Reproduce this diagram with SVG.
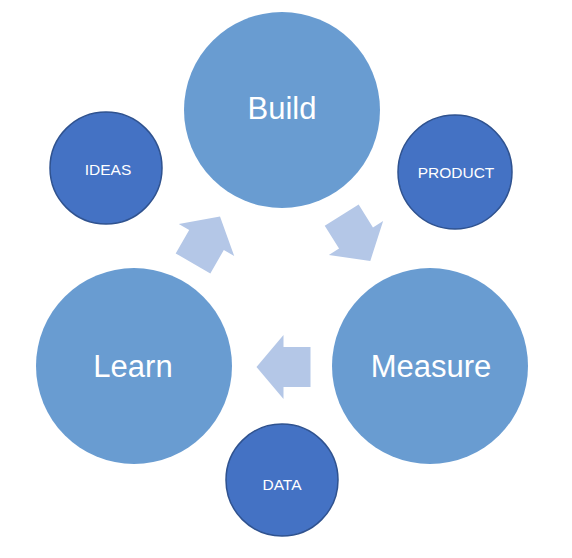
<svg xmlns="http://www.w3.org/2000/svg" width="572" height="558" viewBox="0 0 572 558">
<style>
.big{fill:#699CD1}
.small{fill:#4472C4;stroke:#2F528F;stroke-width:1.5}
.arrow{fill:#B4C7E7}
.lbig{font-family:"Liberation Sans",Arial,sans-serif;font-size:31px;fill:#fff;text-anchor:middle}
.lsmall{font-family:"Liberation Sans",Arial,sans-serif;font-size:15.5px;fill:#fff;text-anchor:middle}
</style>
<defs>
<polygon id="arr" points="27,0 0,-32 0,-20 -27,-20 -27,20 0,20 0,32"/>
</defs>
<rect width="572" height="558" fill="#fff"/>
<g id="connectors">
<use href="#arr" class="arrow" transform="translate(206.5,240) rotate(-60)"/>
<use href="#arr" class="arrow" transform="translate(356,238) rotate(58)"/>
<use href="#arr" class="arrow" transform="translate(283.5,367) rotate(180)"/>
</g>
<g id="build"><circle class="big" cx="282" cy="110" r="98"/><text class="lbig" x="282" y="119">Build</text></g>
<g id="measure"><circle class="big" cx="430" cy="366" r="98"/><text class="lbig" x="431" y="377">Measure</text></g>
<g id="learn"><circle class="big" cx="134" cy="366" r="98"/><text class="lbig" x="133" y="377">Learn</text></g>
<g id="ideas"><circle class="small" cx="106" cy="168" r="56"/><text class="lsmall" x="108" y="175">IDEAS</text></g>
<g id="product"><circle class="small" cx="455" cy="172" r="57"/><text class="lsmall" x="456" y="178">PRODUCT</text></g>
<g id="data"><circle class="small" cx="282" cy="480" r="56"/><text class="lsmall" x="282" y="490">DATA</text></g>
</svg>
